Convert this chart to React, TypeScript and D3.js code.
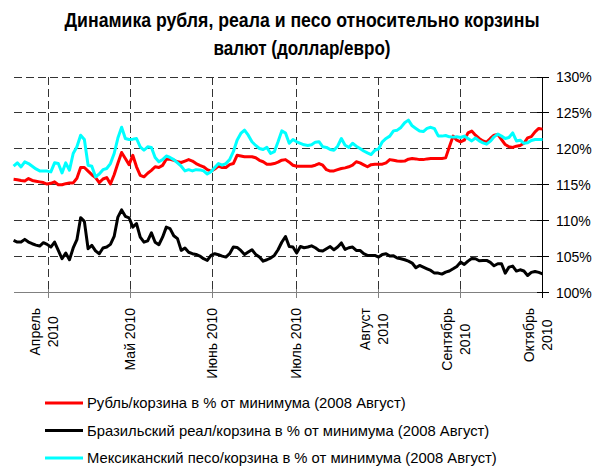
import React, { useEffect, useRef } from "react";
import * as d3 from "d3";

const titleLines = ["Динамика рубля, реала и песо относительно корзины", "валют (доллар/евро)"];
const yTicks = [100, 105, 110, 115, 120, 125, 130];
const monthTickIdx = [9.5, 31.5, 53.5, 76, 98, 120, 142];
const monthLabels = [
  ["Апрель", "2010"],
  ["Май 2010"],
  ["Июнь 2010"],
  ["Июль 2010"],
  ["Август", "2010"],
  ["Сентябрь", "2010"],
  ["Октябрь", "2010"],
];
const seriesNames = [
  "Рубль/корзина в % от минимума (2008 Август)",
  "Бразильский реал/корзина в % от минимума (2008 Август)",
  "Мексиканский песо/корзина в % от минимума (2008 Август)",
];
const seriesColors = ["#ff0000", "#000000", "#00ffff"];

const rubleValues = [
  115.77, 115.7, 115.6, 115.53, 115.86, 115.6, 115.5, 115.4, 115.3, 115.1,
  115.2, 115.4, 115.0, 115.0, 115.15, 115.26, 115.26, 115.9, 117.4, 117.4,
  116.9, 116.4, 116.0, 115.3, 115.8, 116.0, 115.1, 116.4, 118.0, 119.5,
  118.65, 117.8, 119.1, 117.5, 116.3, 116.1, 116.6, 117.0, 117.5, 117.4,
  117.7, 118.56, 118.56, 118.42, 118.2, 118.1, 118.3, 118.5, 118.3, 117.95,
  117.7, 117.5, 117.1, 116.9, 117.2, 117.6, 117.4, 117.4, 117.8, 117.95,
  119.1, 119.0, 118.9, 118.9, 118.9, 118.75, 118.4, 118.2, 117.86, 117.86,
  117.95, 118.14, 118.42, 118.5, 118.14, 117.72, 117.58, 117.58, 117.58, 117.58,
  117.58, 117.72, 117.95, 117.72, 117.1, 116.9, 116.93, 117.1, 117.26, 117.35,
  117.5, 117.72, 118.2, 118.05, 117.77, 117.5, 117.8, 117.86, 117.86, 117.86,
  118.05, 118.5, 118.4, 118.3, 118.28, 118.3, 118.56, 118.65, 118.6, 118.5,
  118.5, 118.6, 118.65, 118.65, 118.65, 118.65, 118.74, 120.28, 121.77, 121.2,
  120.98, 121.2, 122.23, 122.47, 121.9, 121.44, 121.1, 120.93, 121.44, 121.9,
  122.0, 121.3, 120.6, 120.28, 120.2, 120.37, 120.47, 120.77, 121.53, 121.7,
  122.37, 122.84, 122.74,
];

const realValues = [
  107.26, 107.02, 107.02, 107.4, 107.02, 106.79, 106.6, 106.47, 106.93, 106.7,
  106.33, 107.02, 105.86, 104.7, 105.49, 104.56, 106.2, 107.35, 110.42, 109.9,
  106.09, 106.56, 105.8, 105.4, 106.2, 106.33, 106.7, 107.8, 110.5, 111.5,
  110.6, 110.4, 109.1, 109.6, 107.7, 107.0, 107.2, 108.3, 107.0, 106.65,
  107.7, 109.1, 108.9, 107.9, 107.5, 105.86, 106.2, 105.6, 105.4, 105.3,
  105.07, 104.7, 104.47, 105.16, 105.4, 105.26, 105.07, 104.93, 105.4, 106.33,
  106.28, 105.86, 105.3, 105.63, 105.95, 105.3, 104.93, 104.37, 104.56, 104.8,
  105.16, 105.95, 107.0, 107.8, 106.4, 106.33, 105.49, 106.4, 106.23, 106.33,
  106.5, 106.23, 105.86, 105.77, 106.1, 106.4, 105.95, 106.33, 106.9, 106.0,
  106.23, 106.33, 105.86, 105.86, 105.4, 105.16, 105.16, 105.16, 104.93, 105.3,
  105.4, 105.07, 105.1, 104.8, 104.7, 104.56, 104.37, 104.1, 103.44, 103.77,
  103.53, 103.3, 103.07, 102.7, 102.7, 102.56, 102.84, 103.0, 103.3, 103.63,
  104.23, 103.9, 104.37, 104.74, 104.7, 104.42, 104.47, 104.47, 104.19, 103.72,
  104.0, 104.0, 102.7, 103.53, 103.67, 102.98, 103.16, 103.0, 102.37, 102.8,
  102.93, 102.8, 102.6,
];

const pesoValues = [
  117.58, 118.05, 117.49, 118.19, 117.95, 117.58, 117.2, 116.93, 116.93, 116.9,
  116.79, 118.05, 117.95, 116.65, 118.05, 117.02, 119.35, 120.28, 121.9, 121.3,
  117.72, 117.58, 116.1, 116.5, 117.1, 117.26, 117.95, 119.35, 121.5, 123.0,
  121.44, 121.3, 121.35, 121.44, 120.28, 119.8, 120.28, 120.2, 118.8, 118.2,
  118.5, 119.0, 118.8, 118.5, 118.05, 117.58, 116.93, 117.1, 116.93, 117.1,
  117.07, 116.93, 116.5, 116.8, 117.4, 117.95, 117.72, 117.95, 118.5, 119.6,
  121.2, 122.14, 122.6, 121.9, 120.98, 120.47, 120.05, 119.9, 120.2, 119.35,
  119.6, 120.98, 122.5, 122.2, 120.77, 121.3, 120.98, 120.77, 120.56, 120.47,
  120.56, 120.93, 121.0, 120.28, 120.2, 119.9, 119.8, 120.37, 121.44, 120.5,
  120.2, 120.77, 120.37, 120.05, 119.7, 119.44, 119.2, 119.8, 120.0, 120.98,
  121.44, 121.77, 122.5, 122.6, 122.98, 123.63, 124.0, 123.2, 122.84, 122.47,
  122.4, 122.84, 123.0, 122.8, 121.8, 121.77, 121.86, 121.67, 121.63, 121.67,
  121.58, 121.77, 121.44, 121.1, 121.5, 121.1, 120.84, 120.65, 121.07, 121.67,
  122.05, 121.77, 121.44, 121.58, 122.23, 121.1, 121.2, 120.77, 120.84, 121.16,
  121.3, 121.3, 121.3,
];

const FONT = "'Liberation Sans', Arial, sans-serif";

export default function App() {
  const ref = useRef<SVGSVGElement>(null);

  useEffect(() => {
    document.body.style.margin = "0";
    const svg = d3.select(ref.current);
    svg.selectAll("*").remove();

    const left = 13.6, right = 542.5, top = 77, bottom = 292.5;
    const x = d3.scaleLinear().domain([0, rubleValues.length - 1]).range([left, right]);
    const y = d3.scaleLinear().domain([100, 130]).range([bottom, top]);

    // title
    const titleWidths = [475, 177];
    const titleBase = [27, 55];
    titleLines.forEach((t, i) => {
      svg.append("text")
        .attr("x", 302).attr("y", titleBase[i])
        .attr("text-anchor", "middle")
        .attr("font-family", FONT).attr("font-weight", "bold").attr("font-size", 20)
        .attr("textLength", titleWidths[i]).attr("lengthAdjust", "spacingAndGlyphs")
        .attr("fill", "#000")
        .text(t);
    });

    // horizontal grid
    svg.append("g").selectAll("line").data(yTicks.filter((v) => v > 100)).join("line")
      .attr("x1", left).attr("x2", right)
      .attr("y1", (d) => y(d)).attr("y2", (d) => y(d))
      .attr("stroke", "#333").attr("stroke-width", 1).attr("stroke-dasharray", "8,4")
      .attr("shape-rendering", "crispEdges");

    // vertical grid
    svg.append("g").selectAll("line").data(monthTickIdx.slice(0, -1)).join("line")
      .attr("x1", (d) => x(d)).attr("x2", (d) => x(d))
      .attr("y1", top).attr("y2", bottom)
      .attr("stroke", "#333").attr("stroke-width", 1).attr("stroke-dasharray", "8,4")
      .attr("shape-rendering", "crispEdges");

    // bottom axis
    svg.append("line")
      .attr("x1", left).attr("x2", right + 5).attr("y1", bottom).attr("y2", bottom)
      .attr("stroke", "#808080").attr("stroke-width", 1).attr("shape-rendering", "crispEdges");
    svg.append("g").selectAll("line").data(monthTickIdx).join("line")
      .attr("x1", (d) => x(d)).attr("x2", (d) => x(d))
      .attr("y1", bottom - 4).attr("y2", bottom + 5)
      .attr("stroke", "#808080").attr("stroke-width", 1).attr("shape-rendering", "crispEdges");

    // right axis
    svg.append("line")
      .attr("x1", right).attr("x2", right).attr("y1", top).attr("y2", bottom + 5)
      .attr("stroke", "#000").attr("stroke-width", 1).attr("shape-rendering", "crispEdges");
    svg.append("g").selectAll("line").data(yTicks).join("line")
      .attr("x1", right - 6).attr("x2", right + 6)
      .attr("y1", (d) => y(d)).attr("y2", (d) => y(d))
      .attr("stroke", "#000").attr("stroke-width", 1).attr("shape-rendering", "crispEdges");
    svg.append("g").selectAll("text").data(yTicks).join("text")
      .attr("x", 556).attr("y", (d) => y(d) + 5)
      .attr("font-family", FONT).attr("font-size", 14).attr("fill", "#000")
      .text((d) => `${d}%`);

    // x labels
    monthTickIdx.forEach((idx, i) => {
      const lines = monthLabels[i];
      const g = svg.append("g").attr("transform", `translate(${x(idx)},308) rotate(-90)`);
      const offs = lines.length === 1 ? [-0.5] : [-13.5, 4.5];
      const texts = lines.map((l, k) =>
        g.append("text")
          .attr("y", offs[k] + 5)
          .attr("text-anchor", "middle")
          .attr("font-family", FONT).attr("font-size", 14).attr("fill", "#000")
          .text(l)
      );
      const L = Math.max(...texts.map((t) => (t.node() as SVGTextElement).getComputedTextLength()));
      texts.forEach((t) => t.attr("x", -L / 2));
    });

    // series
    const line = d3.line<number>().x((_, i) => x(i)).y((d) => y(d));
    const allSeries = [rubleValues, realValues, pesoValues];
    allSeries.forEach((vals, s) => {
      svg.append("path")
        .attr("d", line(vals) as string)
        .attr("fill", "none").attr("stroke", seriesColors[s]).attr("stroke-width", 3)
        .attr("stroke-linejoin", "round");
    });

    // legend
    const legendY = [403, 430.5, 458];
    seriesNames.forEach((n, s) => {
      svg.append("line")
        .attr("x1", 45).attr("x2", 83).attr("y1", legendY[s]).attr("y2", legendY[s])
        .attr("stroke", seriesColors[s]).attr("stroke-width", 3);
      svg.append("text")
        .attr("x", 87).attr("y", legendY[s] + 5)
        .attr("font-family", FONT).attr("font-size", 14.8).attr("fill", "#000")
        .text(n);
    });
  }, []);

  return (
    <svg
      ref={ref}
      width={607}
      height={468}
      style={{ position: "absolute", left: 0, top: 0, display: "block", background: "#fff" }}
    />
  );
}
